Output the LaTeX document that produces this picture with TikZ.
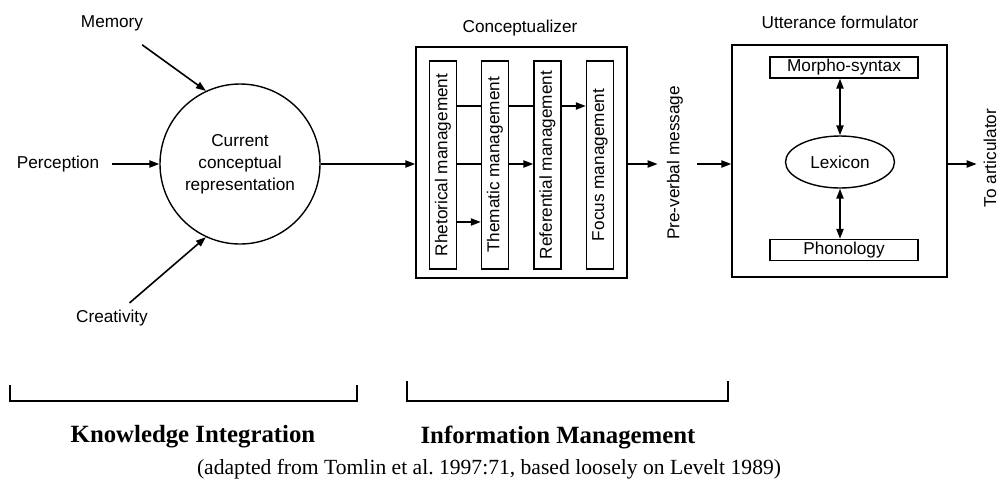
\documentclass[tikz,border=0pt]{standalone}
\usepackage{fontspec}
\setmainfont{Liberation Serif}
\setsansfont{Liberation Sans}
\usetikzlibrary{arrows.meta,shapes.geometric}

\tikzset{
  lbl/.style={font=\sffamily\fontsize{8.6}{11}\selectfont},
  box/.style={draw, line width=0.7pt, inner sep=0pt, lbl},
  flow/.style={line width=0.8pt, -{Triangle[length=5pt,width=3.6pt]}},
  link/.style={line width=0.8pt},
  twoway/.style={line width=0.8pt, {Triangle[length=5pt,width=3.6pt]}-{Triangle[length=5pt,width=3.6pt]}},
  area/.style={font=\bfseries\fontsize{12.4}{14}\selectfont}
}

\begin{document}
\begin{tikzpicture}[x=0.5pt,y=-0.5pt]
\useasboundingbox (0,0) rectangle (1003,484);

% Knowledge integration
\node[draw, circle, line width=0.7pt, minimum size=80pt, inner sep=0pt,
      align=center, lbl] (cur) at (240,164) {Current\\conceptual\\representation};
\node[lbl] (mem)  at (112,23)  {Memory};
\node[lbl] (perc) at (58,164)  {Perception};
\node[lbl] (crea) at (112,318) {Creativity};

\draw[flow, shorten <=6pt] (mem) -- (cur.115);
\draw[flow, shorten <=3pt] (perc) -- (cur);
\draw[flow] (crea) -- (cur.245);

% Rows of the arrows
\coordinate (rowa) at (0,106);
\coordinate (rowb) at (0,164);
\coordinate (rowc) at (0,222);

% Conceptualizer
\node[box, minimum width=105.5pt, minimum height=115.5pt] (conc) at (521.5,162.5) {};
\node[lbl] (conctitle) at (520,28) {Conceptualizer};
\foreach \x/\n/\t in {443/rhet/Rhetorical management,
                      495/them/Thematic management,
                      547.5/refe/Referential management,
                      600/focu/Focus management}
  \node[box, rotate=90, minimum width=104pt, minimum height=13.5pt] (\n) at (\x,165) {\t};

\draw[link] (rhet.south |- rowa) -- (them.north |- rowa);
\draw[link] (them.south |- rowa) -- (refe.north |- rowa);
\draw[flow] (refe.south |- rowa) -- (focu.north |- rowa);
\draw[link] (rhet.south |- rowb) -- (them.north |- rowb);
\draw[flow] (them.south |- rowb) -- (refe.north |- rowb);
\draw[flow] (rhet.south |- rowc) -- (them.north |- rowc);

\draw[flow] (cur.east) -- (cur.east -| conc.west);

% Pre-verbal message
\node[lbl, rotate=90, inner sep=4.5pt] (pre) at (675,163) {Pre-verbal message};
\draw[flow] (conc.east |- rowb) -- (pre.north |- rowb);

% Utterance formulator
\node[box, minimum width=107.5pt, minimum height=116pt] (utt) at (839.5,161) {};
\node[lbl] (utttitle) at (840,22) {Utterance formulator};
\node[box, minimum width=74pt, minimum height=10.5pt] (morph) at (844,67.5) {Morpho-syntax};
\node[draw, ellipse, line width=0.7pt, minimum width=54.5pt, minimum height=26pt,
      inner sep=0pt, lbl] (lex) at (840,162) {Lexicon};
\node[box, minimum width=74pt, minimum height=10.5pt] (phon) at (844,250) {Phonology};
\draw[twoway] (lex.north) -- (lex.north |- morph.south);
\draw[twoway] (lex.south) -- (lex.south |- phon.north);

\draw[flow, shorten <=2.5pt] (pre.south |- rowb) -- (utt.west |- rowb);

% To articulator
\node[lbl, rotate=90] (art) at (990,158) {To articulator};
\draw[flow] (utt.east |- rowb) -- (art.north |- rowb);

% Brackets and labels
\draw[link] (10,385) |- (357,401) -- (357,385);
\draw[link] (407,381) |- (728,401) -- (728,381);
\node[area] (ki) at (193,437) {Knowledge Integration};
\node[area] (im) at (558,437) {Information Management};
\node[font=\fontsize{10.8}{13}\selectfont] (src) at (489,469)
  {(adapted from Tomlin et al.\ 1997:71, based loosely on Levelt 1989)};

\end{tikzpicture}
\end{document}
